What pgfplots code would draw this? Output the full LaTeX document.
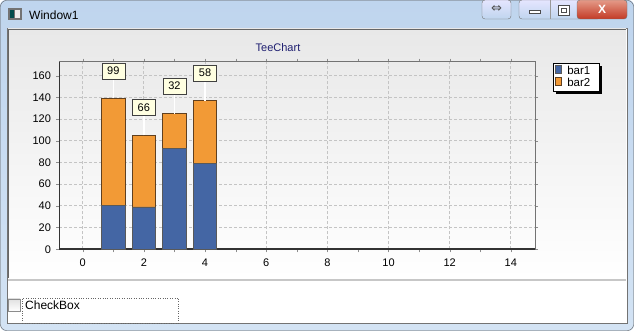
\documentclass[border=0pt]{standalone}
\usepackage{fontspec}
\setmainfont{Liberation Sans}
\newfontfamily\dejavu{DejaVu Sans}
\usepackage{pgfplots}
\pgfplotsset{compat=1.18}
\definecolor{barA}{HTML}{4466A4}
\definecolor{barB}{HTML}{F29A36}
\definecolor{note}{HTML}{FFFFE1}
\definecolor{gridc}{HTML}{C4C4C4}
\definecolor{frameTop}{HTML}{BFD5EE}
\definecolor{frameBot}{HTML}{D3E3F4}
\definecolor{panelTop}{HTML}{E8E8E8}
\definecolor{titleNavy}{HTML}{1E1E70}
\definecolor{closeTop}{HTML}{E49A88}
\definecolor{closeBot}{HTML}{C33A25}
\pgfplotsset{
  common/.style={
    scale only axis, width=476pt, height=187.6pt,
    xmin=-0.775, xmax=14.79, ymin=0, ymax=172.9,
    /pgf/number format/assume math mode=true,
  },
  ybar legend/.style={/pgfplots/legend image code/.code={\path (0pt,-4pt) rectangle (19pt,4pt);
    \draw[##1, draw=black!70, line width=0.6pt] (10pt,-4pt) rectangle (17pt,4pt);}},
}
\begin{document}
\begin{tikzpicture}[x=1pt,y=1pt]
\useasboundingbox (0,0) rectangle (634,331);
% window frame
\shade[top color=frameTop, bottom color=frameBot, rounded corners=6pt] (0,0) rectangle (634,331);
\draw[black!65, rounded corners=6pt] (0.5,0.5) rectangle (633.5,330.5);
% icon + title
\fill[black!55] (8,311) rectangle (22,323);
\fill[teal!60!black] (10,313) rectangle (14,321);
\fill[white!85!gray] (15,313) rectangle (20,321);
\node[anchor=west, font=\fontsize{12}{14}\selectfont, inner sep=0pt] at (29,316) {Window1};
% buttons
\shade[top color=white!90!blue, bottom color=frameTop, rounded corners=3pt, draw=black!55] (482,312) rectangle (511,331);
\node[font=\dejavu\fontsize{13}{13}\selectfont, black!70, inner sep=0pt] at (496.5,321.5) {⇔};
\shade[top color=white!90!blue, bottom color=frameTop, rounded corners=3pt, draw=black!55] (519,312) rectangle (600,331);
\draw[black!40] (550,312) -- (550,331);
\shade[top color=closeTop, bottom color=closeBot, rounded corners=3pt, draw=black!55] (577,312) rectangle (627,331);
\draw[black!70, fill=white] (529,318) rectangle (540,321);
\draw[black!70, fill=white, line width=0.8pt] (558,316) rectangle (569,326);
\draw[black!70] (561,319) rectangle (566,323);
\node[white, font=\bfseries\fontsize{12}{12}\selectfont, inner sep=0pt] at (602,321.5) {X};
% client area
\fill[white] (7,8) rectangle (627,303);
\draw[black!55] (7,8) rectangle (627,303);
\shade[top color=panelTop, bottom color=white] (8,53) rectangle (626,302);
\draw[black!60] (8,53) -- (8,302) -- (626,302);
\fill[black!22] (8,50) rectangle (626,52);
% checkbox
\shade[top color=black!12, bottom color=white, draw=black!45] (8,20) rectangle (20,32);
\draw[black!60, dotted] (22,8) rectangle (178.5,33);
\node[anchor=west, font=\fontsize{12}{14}\selectfont, inner sep=0pt] at (25,25.5) {CheckBox};
% chart title
\node[titleNavy, font=\fontsize{11}{13}\selectfont] at (278,283) {TeeChart};
\begin{scope}[shift={(59,81.7)}]
\begin{axis}[common,
  ybar stacked, bar width=23.3pt,
  xtick={0,2,...,14}, ytick={0,20,...,160},
  minor x tick num=1,
  tick align=outside,
  major tick length=3pt, minor tick length=3pt,
  tick style={black!45},
  xmajorgrids, ymajorgrids,
  major grid style={gridc, dash pattern=on 3pt off 2pt, line width=0.9pt},
  axis line style={black!55, line width=1pt},
  ticklabel style={font=\fontsize{11}{13}\selectfont, black},
  xticklabel style={yshift=-3pt},
  yticklabel style={xshift=-1.5pt},
  legend style={at={(1.0385,0.9915)}, anchor=north west, draw=black, fill=white,
    font=\fontsize{11.5}{12}\selectfont, inner sep=1pt, row sep=-2pt,
    cells={anchor=west}, name=leg},
]
\addplot[fill=barA, draw=black!65, line width=0.8pt] coordinates {(1,40) (2,39) (3,93) (4,79)};
\addlegendentry{\makebox[33pt][l]{\hspace*{4pt}bar1}}
\addplot[fill=barB, draw=black!50!brown, line width=0.8pt] coordinates {(1,99) (2,66) (3,32) (4,58)};
\addlegendentry{\makebox[33pt][l]{\hspace*{4pt}bar2}}
\draw[black!80, line width=1.8pt] (rel axis cs:0,1) -- (rel axis cs:0,0) -- (rel axis cs:1,0);
\end{axis}
% legend shadow
\fill[black] ([yshift=-2.7pt]leg.north east) rectangle ([xshift=2.7pt,yshift=-2.7pt]leg.south east);
\fill[black] ([xshift=2.7pt]leg.south west) rectangle ([xshift=2.7pt,yshift=-2.7pt]leg.south east);
% overlay axis carrying the marks (bar2 values) above each stacked bar
\begin{axis}[common, hide axis,
  point meta=explicit,
  nodes near coords={\pgfmathprintnumber{\pgfplotspointmeta}},
  every node near coord/.style={anchor=south, yshift=19.5pt,
    draw=black!75, fill=note, text=black, inner sep=1pt, minimum width=23pt, minimum height=16pt,
    font=\fontsize{11}{12}\selectfont},
]
\addplot[draw=none, mark=none,
  error bars/.cd, y dir=plus, y fixed=18, error mark=none,
  error bar style={draw=white, line width=1.3pt, solid}]
  coordinates {(1,139) [99] (2,105) [66] (3,125) [32] (4,137) [58]};
\end{axis}
\end{scope}
\end{tikzpicture}
\end{document}
